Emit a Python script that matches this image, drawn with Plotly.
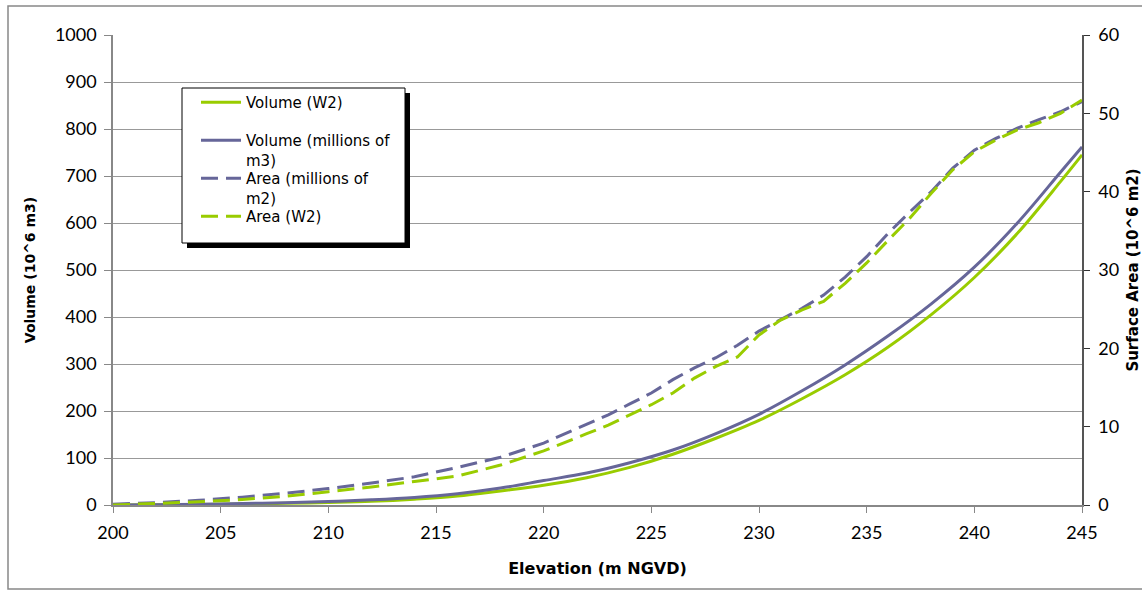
import plotly.graph_objects as go

# Volume curves (10^6 m3)
vol_elev = [200, 202, 204, 206, 208, 210, 212, 214, 216, 218, 220, 222, 224, 226, 228,
            230, 232, 234, 236, 238, 240, 242, 244, 245]
vol_w2 = [0, 0.3, 1, 2, 3.5, 5.5, 8, 12.5, 19, 30, 42, 58, 80, 108, 142,
          180, 226, 277, 336, 405, 484, 578, 688, 745]
vol_millions = [0, 0.5, 1.5, 3, 5, 7.5, 11, 16, 24, 36, 52, 68, 90, 117, 152,
                193, 243, 298, 360, 428, 506, 600, 708, 762]

# Area curves (10^6 m2)
area_elev = [200, 202, 204, 206, 208, 210, 212, 214, 216, 218, 220, 222, 223, 224, 225, 226, 227, 228, 229,
             230, 231, 232, 233, 234, 235, 236, 237, 238, 239, 240, 241, 242, 243, 244, 245]
area_millions = [0.1, 0.3, 0.6, 1.0, 1.5, 2.1, 2.8, 3.6, 4.8, 6.1, 7.9, 10.3, 11.5, 12.9, 14.3, 16.0, 17.5, 18.8, 20.4,
                 22.2, 23.7, 25.1, 26.8, 29.1, 31.7, 34.7, 37.4, 40.0, 43.0, 45.3, 46.8, 48.1, 49.2, 50.2, 51.5]
area_w2 = [0, 0.2, 0.4, 0.7, 1.1, 1.7, 2.3, 3.0, 3.7, 5.1, 6.9, 9.1, 10.2, 11.5, 12.8, 14.3, 16.2, 17.7, 18.9,
           21.7, 23.6, 24.9, 26.0, 28.3, 30.9, 33.8, 36.6, 39.8, 42.8, 45.1, 46.6, 47.9, 48.8, 50.0, 51.7]

names = ["Volume (W2)", "Volume (millions of<br>m3)", "Area (millions of<br>m2)", "Area (W2)"]

GREEN = "#99CC00"
PURPLE = "#666699"
FONT = "Lato"
TFONT = "DejaVu Sans"
DASH = "17px,8px"

fig = go.Figure()
fig.add_trace(go.Scatter(x=vol_elev, y=vol_w2, name=names[0], mode="lines", legend="legend",
                         line=dict(color=GREEN, width=3, shape="spline", smoothing=1)))
fig.add_trace(go.Scatter(x=vol_elev, y=vol_millions, name=names[1], mode="lines", legend="legend2",
                         line=dict(color=PURPLE, width=3, shape="spline", smoothing=1)))
fig.add_trace(go.Scatter(x=area_elev, y=area_millions, name=names[2], mode="lines", yaxis="y2",
                         legend="legend3", line=dict(color=PURPLE, width=3, dash=DASH)))
fig.add_trace(go.Scatter(x=area_elev, y=area_w2, name=names[3], mode="lines", yaxis="y2",
                         legend="legend4", line=dict(color=GREEN, width=3, dash=DASH)))

W, H = 1142, 591
L, R, T, B = 113, 60, 35, 86
pw, ph = W - L - R, H - T - B

def px(x):
    return (x - L) / pw

def py(y):
    return (H - B - y) / ph

shapes = [
    # outer chart border
    dict(type="rect", xref="paper", yref="paper", x0=px(8), x1=px(1160), y0=py(589), y1=py(6),
         line=dict(color="#888888", width=1.5), layer="below"),
    # legend shadow
    dict(type="rect", xref="paper", yref="paper", x0=px(187), x1=px(410), y0=py(248), y1=py(93),
         line=dict(width=0), fillcolor="black", layer="above"),
    # legend frame
    dict(type="rect", xref="paper", yref="paper", x0=px(182), x1=px(405), y0=py(243), y1=py(88),
         line=dict(width=1, color="black"), fillcolor="white", layer="above"),
]

def leg(ytop):
    return dict(x=px(196), y=py(ytop), xanchor="left", yanchor="top",
                bgcolor="rgba(0,0,0,0)", borderwidth=0, valign="top", itemwidth=40,
                font=dict(family=TFONT, size=15, color="black"))

fig.update_layout(
    width=W, height=H,
    margin=dict(l=L, r=R, t=T, b=B, autoexpand=False),
    paper_bgcolor="white", plot_bgcolor="white",
    font=dict(family=FONT, size=13, color="black"),
    showlegend=True,
    legend=leg(86),
    legend2=leg(124),
    legend3=leg(162),
    legend4=leg(200),
    xaxis=dict(range=[200, 245], tickmode="array", tickvals=list(range(200, 246, 5)),
               automargin=False,
               showgrid=False, zeroline=False, showline=True, linecolor="#888888", linewidth=1.5,
               ticks="outside", ticklen=6, tickcolor="#888888", ticklabelstandoff=5,
               tickfont=dict(family=FONT, size=18),
               title=dict(text="<b>Elevation (m NGVD)</b>", font=dict(family=TFONT, size=16), standoff=20)),
    yaxis=dict(range=[0, 1000], tickmode="array", tickvals=list(range(0, 1001, 100)),
               automargin=False,
               showgrid=True, gridcolor="#999999", gridwidth=1.2, zeroline=False,
               showline=True, linecolor="#888888", linewidth=1.5,
               ticks="outside", ticklen=7, tickcolor="#888888", ticklabelstandoff=4,
               tickfont=dict(family=FONT, size=18),
               title=dict(text="<b>Volume (10^6 m3)</b>", font=dict(family=TFONT, size=14), standoff=16)),
    yaxis2=dict(range=[0, 60], tickmode="array", tickvals=list(range(0, 61, 10)),
                automargin=False,
                overlaying="y", side="right", showgrid=False, zeroline=False,
                showline=True, linecolor="#555555", linewidth=1.5,
                ticks="outside", ticklen=6, tickcolor="#333333", ticklabelstandoff=5,
                tickfont=dict(family=FONT, size=18),
                title=dict(text="<b>Surface Area (10^6 m2)</b>", font=dict(family=TFONT, size=15), standoff=27)),
    shapes=shapes,
)

fig.write_html("out.html")
